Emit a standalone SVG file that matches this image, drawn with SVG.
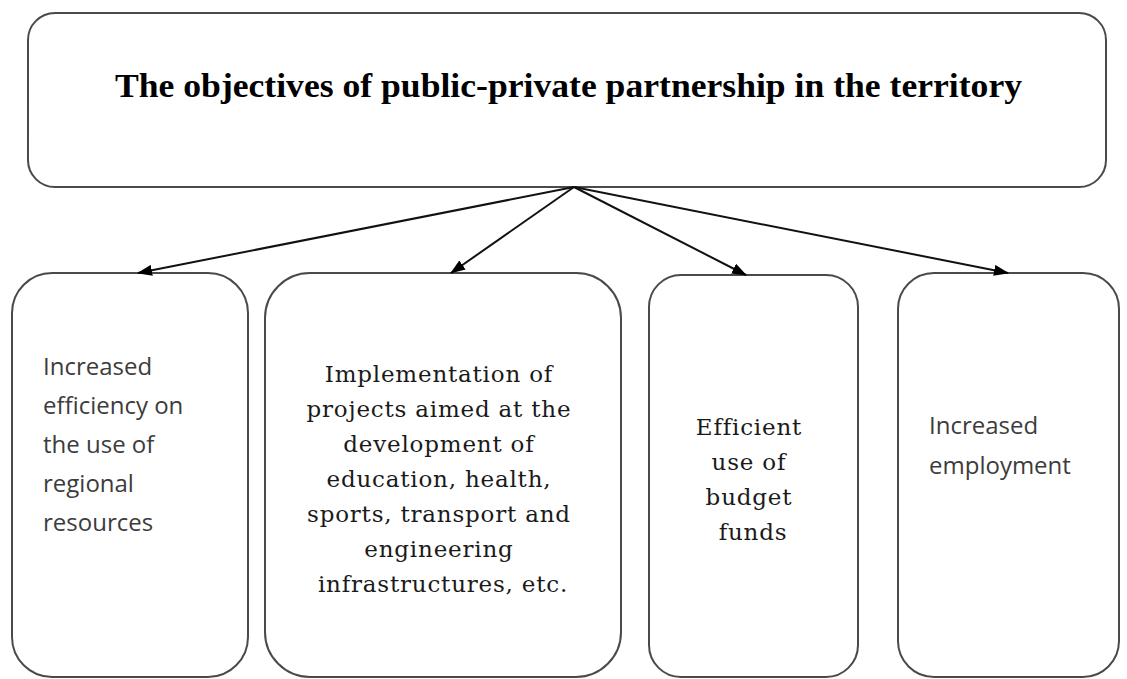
<svg xmlns="http://www.w3.org/2000/svg" width="1127" height="679" viewBox="0 0 1127 679">
  <defs>
    <marker id="arrow" viewBox="0 0 15 11" markerWidth="15" markerHeight="11" refX="14" refY="5.5" orient="auto" markerUnits="userSpaceOnUse">
      <path d="M0,0 L15,5.5 L0,11 Z" fill="#000"/>
    </marker>
    <style>
      .box { fill: #fff; stroke: #4a4a4a; stroke-width: 2; }
      .edge { stroke: #111; stroke-width: 2; fill: none; marker-end: url(#arrow); }
      .title { font-family: "Liberation Serif", "Times New Roman", serif; font-weight: bold; font-size: 33px; fill: #000; }
      .sans { font-family: "Open Sans", "Liberation Sans", sans-serif; font-size: 24px; fill: #3c3c3c; }
      .serif { font-family: "DejaVu Serif", "Liberation Serif", serif; font-size: 23px; letter-spacing: 0.8px; fill: #1a1a1a; text-anchor: middle; }
    </style>
  </defs>
  <rect width="1127" height="679" fill="#fff"/>

  <!-- root node -->
  <g id="node-root">
    <rect class="box" x="28" y="13" width="1078" height="174" rx="27" ry="27"/>
    <text class="title" x="115" y="97" textLength="907" lengthAdjust="spacingAndGlyphs">The objectives of public-private partnership in the territory</text>
  </g>

  <!-- child nodes -->
  <g id="node-resources">
    <rect class="box" x="12" y="273" width="236" height="404" rx="40" ry="40"/>
    <text class="sans">
      <tspan x="43" y="375">Increased</tspan>
      <tspan x="43" y="414">efficiency on</tspan>
      <tspan x="43" y="453">the use of</tspan>
      <tspan x="43" y="492">regional</tspan>
      <tspan x="43" y="531">resources</tspan>
    </text>
  </g>

  <g id="node-projects">
    <rect class="box" x="265" y="273" width="356" height="404" rx="45" ry="45"/>
    <text class="serif">
      <tspan x="443" y="382">Implementation of</tspan>
      <tspan x="443" y="417">projects aimed at the</tspan>
      <tspan x="443" y="452">development of</tspan>
      <tspan x="443" y="487">education, health,</tspan>
      <tspan x="443" y="522">sports, transport and</tspan>
      <tspan x="443" y="557">engineering</tspan>
      <tspan x="443" y="592">infrastructures, etc.</tspan>
    </text>
  </g>

  <g id="node-budget">
    <rect class="box" x="649" y="275" width="209" height="402" rx="32" ry="32"/>
    <text class="serif">
      <tspan x="753" y="435">Efficient</tspan>
      <tspan x="753" y="470">use of</tspan>
      <tspan x="753" y="505">budget</tspan>
      <tspan x="753" y="540">funds</tspan>
    </text>
  </g>

  <g id="node-employment">
    <rect class="box" x="898" y="273" width="221" height="404" rx="36" ry="36"/>
    <text class="sans">
      <tspan x="929" y="434">Increased</tspan>
      <tspan x="929" y="474">employment</tspan>
    </text>
  </g>

  <!-- connectors -->
  <g id="connectors">
    <line class="edge" x1="574" y1="187" x2="138" y2="273"/>
    <line class="edge" x1="574" y1="187" x2="451" y2="273"/>
    <line class="edge" x1="574" y1="187" x2="746" y2="275"/>
    <line class="edge" x1="574" y1="187" x2="1008" y2="273"/>
  </g>
</svg>
